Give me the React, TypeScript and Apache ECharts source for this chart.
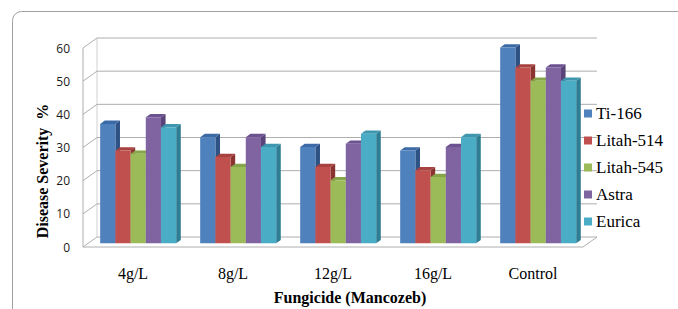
import React, { useEffect, useRef } from "react";
import * as echarts from "echarts";

const categories = ["4g/L", "8g/L", "12g/L", "16g/L", "Control"];
const seriesNames = ["Ti-166", "Litah-514", "Litah-545", "Astra", "Eurica"];
const ti166 = [36, 32, 29, 28, 59];
const litah514 = [28, 26, 23, 22, 53];
const litah545 = [27, 23, 19, 20, 49];
const astra = [38, 32, 30, 29, 53];
const eurica = [35, 29, 33, 32, 49];
const yTicks = [0, 10, 20, 30, 40, 50, 60];

const seriesValues = [ti166, litah514, litah545, astra, eurica];
const faceColors = ["#4F81BD", "#C0504D", "#9BBB59", "#8064A2", "#4BACC6"];
const sideColors = ["#2F5286", "#8A3330", "#6E8A38", "#584478", "#2F7D93"];
const topColors = ["#3C6AA6", "#A84240", "#86A44A", "#6C5290", "#3E97AF"];

const SERIF = "'Liberation Serif', 'Times New Roman', serif";
const DEPTH_X = 14;
const DEPTH_Y = -10;
const BAR_DEPTH_FRAC = 0.37;
const BAR_DX = 4.6;
const BAR_DY = -3.3;
const GROUP_FRAC = 0.76;

export default function App() {
  const ref = useRef<HTMLDivElement>(null);

  useEffect(() => {
    if (!ref.current) return;
    const chart = echarts.init(ref.current, undefined, { renderer: "svg" });

    const wallSeries: any = {
      type: "custom",
      name: "wall",
      clip: false,
      silent: true,
      z: 1,
      encode: { x: 0, y: 1 },
      data: yTicks.map((v) => [0, v]),
      renderItem: (params: any, api: any) => {
        const cs = params.coordSys;
        const v = api.value(1);
        const y = api.coord([0, v])[1];
        const x0 = cs.x;
        const x1 = cs.x + cs.width;
        const stroke = "#AEAEAE";
        const children: any[] = [];
        if (v === 0) {
          children.push({
            type: "polygon",
            shape: {
              points: [
                [x0, y],
                [x1, y],
                [x1 + DEPTH_X, y + DEPTH_Y],
                [x0 + DEPTH_X, y + DEPTH_Y],
              ],
            },
            style: { fill: "#FFFFFF", stroke, lineWidth: 1 },
          });
          const yTop = cs.y;
          children.push({
            type: "line",
            shape: { x1: x0, y1: y, x2: x0, y2: yTop },
            style: { stroke, lineWidth: 1 },
          });
          children.push({
            type: "line",
            shape: { x1: x0 + DEPTH_X, y1: y + DEPTH_Y, x2: x0 + DEPTH_X, y2: yTop + DEPTH_Y },
            style: { stroke: "#D0D0D0", lineWidth: 1 },
          });
        } else {
          children.push({
            type: "polyline",
            shape: {
              points: [
                [x0, y],
                [x0 + DEPTH_X, y + DEPTH_Y],
                [x1 + DEPTH_X, y + DEPTH_Y],
              ],
            },
            style: { stroke, lineWidth: 1, fill: "none" },
          });
        }
        return { type: "group", children };
      },
    };

    const barSeries = seriesValues.map((vals, si) => ({
      type: "custom",
      name: seriesNames[si],
      clip: false,
      z: 2,
      itemStyle: { color: faceColors[si] },
      encode: { x: 0, y: 1 },
      data: vals.map((v, ci) => [ci, v]),
      renderItem: (params: any, api: any) => {
        const ci = api.value(0);
        const v = api.value(1);
        const catW = api.size([1, 0])[0];
        const top = api.coord([ci, v]);
        const base = api.coord([ci, 0]);
        const groupW = catW * GROUP_FRAC;
        const barW = groupW / seriesValues.length;
        const offX = DEPTH_X * BAR_DEPTH_FRAC;
        const offY = DEPTH_Y * BAR_DEPTH_FRAC;
        const xa = top[0] - groupW / 2 + si * barW + offX;
        const xb = xa + barW;
        const yt = top[1] + offY;
        const yb = base[1] + offY;
        return {
          type: "group",
          children: [
            {
              type: "polygon",
              shape: {
                points: [
                  [xb, yt],
                  [xb + BAR_DX, yt + BAR_DY],
                  [xb + BAR_DX, yb + BAR_DY],
                  [xb, yb],
                ],
              },
              style: { fill: sideColors[si] },
            },
            {
              type: "polygon",
              shape: {
                points: [
                  [xa, yt],
                  [xa + BAR_DX, yt + BAR_DY],
                  [xb + BAR_DX, yt + BAR_DY],
                  [xb, yt],
                ],
              },
              style: { fill: topColors[si] },
            },
            {
              type: "rect",
              shape: { x: xa, y: yt, width: barW, height: yb - yt },
              style: { fill: faceColors[si] },
            },
          ],
        };
      },
    }));

    chart.setOption({
      animation: false,
      backgroundColor: "#FFFFFF",
      grid: { left: 83, right: 95, top: 48, bottom: 62, containLabel: false },
      xAxis: {
        type: "category",
        data: categories,
        axisLine: { show: false },
        axisTick: { show: false },
        splitLine: { show: false },
        axisLabel: {
          fontFamily: SERIF,
          fontSize: 16,
          color: "#000000",
          margin: 18,
        },
      },
      yAxis: {
        type: "value",
        min: 0,
        max: 60,
        interval: 10,
        axisLine: { show: false },
        axisTick: { show: false },
        splitLine: { show: false },
        axisLabel: {
          fontFamily: "Open Sans",
          fontSize: 12,
          color: "#1A1A1A",
          margin: 13,
        },
      },
      legend: {
        data: seriesNames,
        orient: "vertical",
        left: 584,
        top: 105,
        padding: 0,
        icon: "rect",
        itemWidth: 8,
        itemHeight: 8,
        itemGap: 10,
        textStyle: {
          fontFamily: SERIF,
          fontSize: 17,
          lineHeight: 17,
          color: "#000000",
          padding: [0, 0, 0, -1],
        },
      },
      graphic: [
        {
          type: "rect",
          shape: { x: 12.5, y: 11.5, width: 720, height: 340, r: 9 },
          style: { fill: "none", stroke: "#A0A0A0", lineWidth: 1 },
          silent: true,
          z: 0,
        },
        {
          type: "text",
          x: 42,
          y: 171,
          rotation: Math.PI / 2,
          style: {
            text: "Disease Severity  %",
            fontFamily: SERIF,
            fontWeight: "bold",
            fontSize: 16,
            fill: "#000000",
            align: "center",
            verticalAlign: "middle",
          },
        },
        {
          type: "text",
          x: 350,
          y: 297,
          style: {
            text: "Fungicide (Mancozeb)",
            fontFamily: SERIF,
            fontWeight: "bold",
            fontSize: 16,
            fill: "#000000",
            align: "center",
            verticalAlign: "middle",
          },
        },
      ],
      series: [wallSeries, ...barSeries],
    });

    return () => chart.dispose();
  }, []);

  return (
    <div
      ref={ref}
      style={{ position: "fixed", left: 0, top: 0, width: 678, height: 309 }}
    />
  );
}
